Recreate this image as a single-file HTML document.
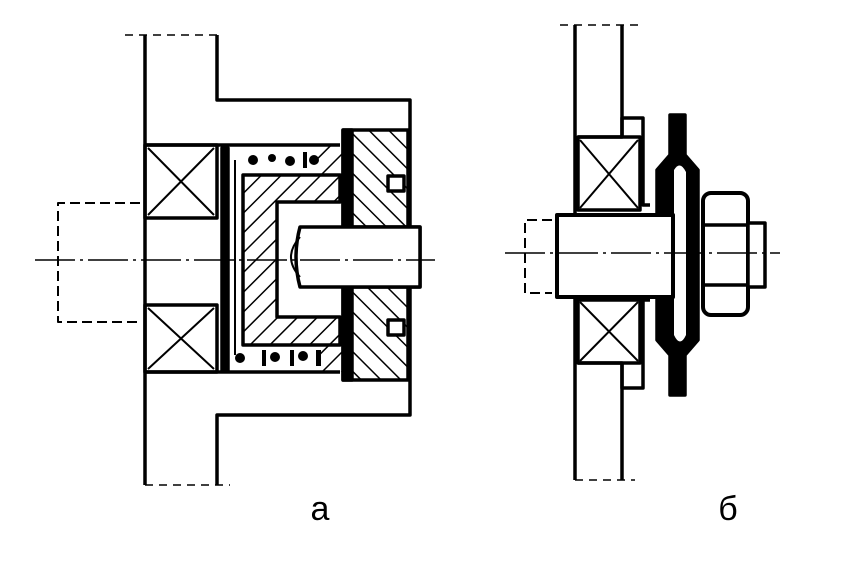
<!DOCTYPE html>
<html><head><meta charset="utf-8"><style>html,body{margin:0;padding:0;background:#fff}svg{display:block}</style></head>
<body>
<svg width="868" height="581" viewBox="0 0 868 581" xmlns="http://www.w3.org/2000/svg">
<defs>
<pattern id="h1" width="14" height="14" patternUnits="userSpaceOnUse" patternTransform="rotate(45)"><line x1="0" y1="0" x2="0" y2="14" stroke="#000" stroke-width="3"/></pattern>
<pattern id="h2" width="14" height="14" patternUnits="userSpaceOnUse" patternTransform="rotate(-45)"><line x1="0" y1="0" x2="0" y2="14" stroke="#000" stroke-width="3"/></pattern>
</defs>
<rect width="868" height="581" fill="#fff"/>
<g fill="none" stroke="#000" stroke-width="3.5" stroke-linejoin="round">
<!-- LEFT FIGURE -->
<line x1="125" y1="35" x2="220" y2="35" stroke-width="1.5" stroke-dasharray="8,6"/>
<line x1="145" y1="485" x2="230" y2="485" stroke-width="1.5" stroke-dasharray="8,6"/>
<path d="M145 35 V485"/>
<path d="M217 35 V100 H410 V415 H217 V485"/>
<rect x="145" y="145" width="72" height="73"/>
<rect x="145" y="305" width="72" height="67"/>
<path d="M148 148 L214 215 M214 148 L148 215 M148 308 L214 369 M214 308 L148 369" stroke-width="2"/>
<line x1="145" y1="145" x2="340" y2="145"/>
<line x1="145" y1="372" x2="340" y2="372"/>
<rect x="222" y="148" width="6" height="222" fill="#000"/>
<line x1="235" y1="160" x2="235" y2="355" stroke-width="2"/>
<path d="M243 175 H340 V202 H277 V317 H340 V345 H243 Z" fill="url(#h1)"/>
<path d="M318 145 L343 145 L343 175 L318 175 Z" fill="url(#h1)" stroke="none"/>
<path d="M318 345 L343 345 L343 372 L318 372 Z" fill="url(#h1)" stroke="none"/>
<g fill="#000" stroke="none">
<circle cx="253" cy="160" r="5"/><circle cx="272" cy="158" r="4"/><circle cx="290" cy="161" r="5"/><rect x="303" y="152" width="4" height="16"/><circle cx="314" cy="160" r="5"/>
<circle cx="240" cy="358" r="5"/><rect x="262" y="350" width="4" height="16"/><circle cx="275" cy="357" r="5"/><rect x="290" y="350" width="4" height="16"/><circle cx="303" cy="356" r="5"/><rect x="316" y="350" width="5" height="16"/>
</g>
<path d="M343 130 H408 V380 H343 V287 H420 V227 H343 Z" fill="url(#h2)"/>
<rect x="343" y="130" width="9" height="97" fill="#000"/>
<rect x="343" y="287" width="9" height="93" fill="#000"/>
<rect x="388" y="176" width="16" height="15" fill="#fff"/>
<rect x="388" y="320" width="16" height="15" fill="#fff"/>
<path d="M300 227 H420 V287 H300 Q292 257 300 227 Z" fill="#fff"/>
<path d="M300 237 Q282 257 300 277" stroke-width="2"/>
<path d="M140 203 H58 V322 H140" stroke-width="2" stroke-dasharray="10,5"/>
<line x1="35" y1="260" x2="435" y2="260" stroke-width="1.5" stroke-dasharray="40,5,3,5"/>
<!-- RIGHT FIGURE -->
<line x1="560" y1="25" x2="640" y2="25" stroke-width="1.5" stroke-dasharray="8,6"/>
<line x1="575" y1="480" x2="635" y2="480" stroke-width="1.5" stroke-dasharray="8,6"/>
<path d="M575 25 V480"/>
<path d="M622 25 V137 M622 363 V480"/>
<path d="M578 137 H622 V118 H643 V205 H650"/>
<path d="M578 363 H622 V388 H643 V300 H650"/>
<rect x="578" y="137" width="62" height="73"/>
<rect x="578" y="300" width="62" height="63"/>
<path d="M580 140 L638 208 M638 140 L580 208 M580 302 L638 361 M638 302 L580 361" stroke-width="2"/>
<path d="M670 115 H685 V155 L698 170 V340 L685 355 V395 H670 V355 L657 340 V170 L670 155 Z" fill="#000"/>
<path d="M674 170 Q680 160 686 172 V335 Q680 348 674 335 Z" fill="#fff" stroke="none"/>
<rect x="557" y="215" width="116" height="82" fill="#fff" stroke-width="4"/>
<path d="M552 220 H525 V293 H552" stroke-width="2" stroke-dasharray="10,5"/>
<rect x="703" y="193" width="45" height="122" rx="8" fill="#fff" stroke-width="4"/>
<line x1="703" y1="225" x2="748" y2="225"/><line x1="703" y1="285" x2="748" y2="285"/>
<rect x="748" y="223" width="17" height="64" fill="#fff"/>
<line x1="505" y1="253" x2="780" y2="253" stroke-width="1.5" stroke-dasharray="40,5,3,5"/>
</g>
<text x="320" y="520" font-family="Liberation Sans, sans-serif" font-size="34" text-anchor="middle">а</text>
<text x="728" y="520" font-family="Liberation Sans, sans-serif" font-size="34" text-anchor="middle">б</text>
</svg>
</body></html>
